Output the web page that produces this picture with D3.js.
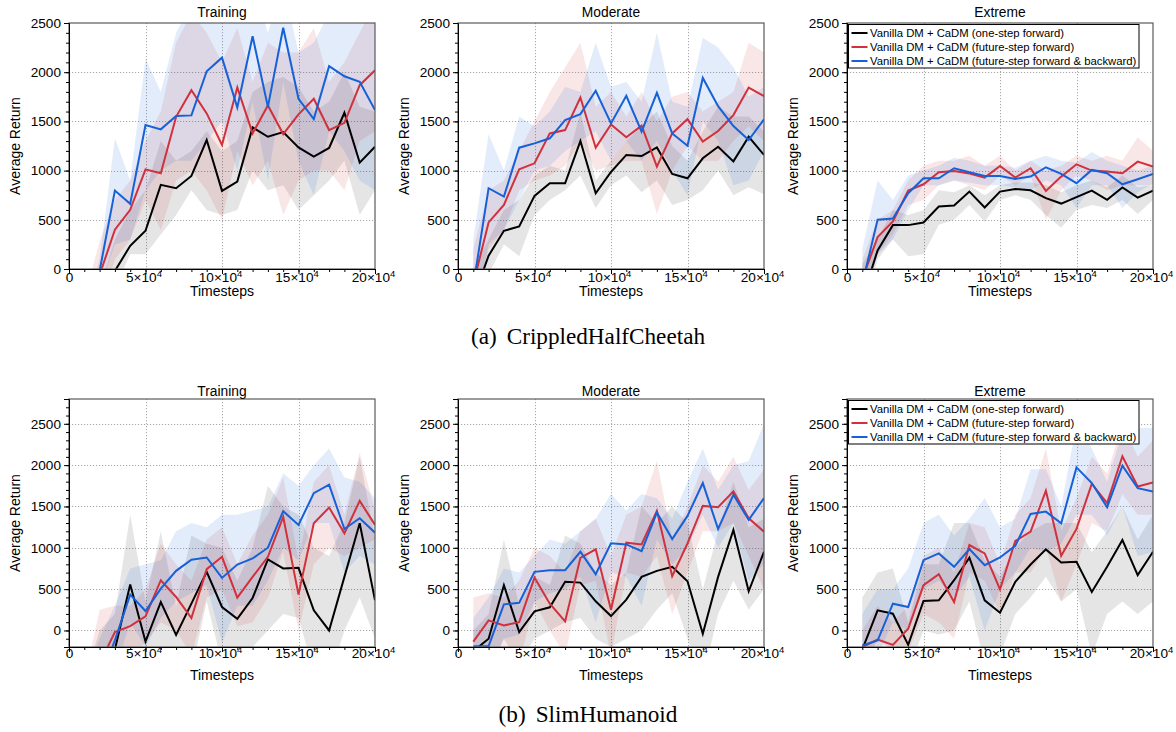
<!DOCTYPE html>
<html><head><meta charset="utf-8">
<script src="https://cdn.jsdelivr.net/npm/d3@7"></script>
<style>body{margin:0;background:#fff}svg{display:block}</style>
</head><body>
<svg id="c" width="1176" height="732"></svg>
<script>
// ---------- data ----------
const timesteps = [10000,20000,30000,40000,50000,60000,70000,80000,90000,100000,110000,120000,130000,140000,150000,160000,170000,180000,190000,200000];
const xTickValues = [0, 50000, 100000, 150000, 200000];
const xTickMantissa = ["0", "5×10", "10×10", "15×10", "20×10"];
const xTickExponent = ["", "4", "4", "4", "4"];
const yTickValues = [0, 500, 1000, 1500, 2000, 2500];
const yDomainTop = [0, 2500];
const yDomainBottom = [-200, 2800];
const panelTitles = ["Training", "Moderate", "Extreme"];
const seriesNames = ["Vanilla DM + CaDM (one-step forward)", "Vanilla DM + CaDM (future-step forward)", "Vanilla DM + CaDM (future-step forward & backward)"];
const seriesColors = ["#000000", "#d0313c", "#1660d8"];
const captionLabels = ["(a)", "(b)"];
const captionNames = ["CrippledHalfCheetah", "SlimHumanoid"];
const xLabel = "Timesteps";
const yLabel = "Average Return";

// CrippledHalfCheetah - Training
const chTrainBlack   = [-900,-500,-20,236,388,855,821,946,1311,794,888,1439,1344,1392,1236,1142,1230,1588,1081,1243];
const chTrainBlackLo = [-1500,-1000,-200,150,150,350,550,800,600,550,600,1000,800,850,600,750,900,1100,550,800];
const chTrainBlackHi = [-500,-200,300,600,800,1300,1100,1200,1400,1200,1300,1800,1900,1950,1850,1600,1700,2000,1650,1600];
const chTrainRed     = [-600,-60,399,601,1013,973,1547,1817,1581,1260,1844,1378,1662,1371,1571,1730,1412,1486,1868,2020];
const chTrainRedLo   = [-1500,-400,100,300,700,400,900,1000,800,500,1200,850,1100,550,900,1000,1000,800,1300,1400];
const chTrainRedHi   = [-300,280,700,900,1300,1600,2300,2600,2400,2100,2450,1900,2300,2200,2200,2450,1900,2100,2400,2700];
const chTrainBlue    = [-800,-20,797,662,1463,1419,1554,1561,2010,2148,1642,2365,1648,2452,1730,1523,2061,1959,1902,1615];
const chTrainBlueLo  = [-1500,-200,250,300,800,1000,1100,1100,1300,1500,1000,1700,900,1900,1100,750,1400,1200,900,800];
const chTrainBlueHi  = [-500,100,1330,900,2140,1800,2400,2700,2700,2900,2600,2900,2400,2900,2200,2300,2600,2700,2500,2500];

// CrippledHalfCheetah - Moderate
const chModBlack   = [-300,135,388,432,743,871,871,1300,770,986,1159,1148,1236,966,922,1125,1243,1094,1344,1159];
const chModBlackLo = [-600,-50,250,130,550,700,800,950,620,850,950,780,900,650,700,800,1000,750,830,760];
const chModBlackHi = [0,300,600,700,950,1050,1000,1600,900,1100,1300,1450,1600,1250,1100,1400,1650,1550,1550,1400];
const chModRed     = [-150,473,652,1013,1074,1378,1412,1743,1233,1469,1338,1456,1040,1378,1523,1294,1402,1564,1844,1756];
const chModRedLo   = [-500,200,400,800,900,950,1050,1300,1000,1050,1100,1100,560,1000,1250,1100,1100,1300,1450,1300];
const chModRedHi   = [200,800,900,1200,1500,1800,2050,2300,1650,1800,1550,1800,1500,1750,1800,1600,1700,1800,2300,2200];
const chModBlue    = [-170,821,736,1233,1277,1328,1513,1574,1811,1480,1760,1395,1790,1378,1253,1942,1655,1453,1311,1520];
const chModBlueLo  = [-500,250,400,700,1000,1050,1200,1300,1400,1100,1300,1100,1300,1000,750,1500,1300,850,900,1200];
const chModBlueHi  = [300,1370,1000,1550,1450,1600,1850,1800,2300,1850,1900,1700,2400,1700,1650,2350,2250,2050,1750,1850];

// CrippledHalfCheetah - Extreme
const chExtBlack   = [-300,189,446,446,473,635,645,787,625,787,814,800,720,665,730,797,703,828,726,797];
const chExtBlackLo = [-500,100,300,130,150,450,500,650,480,700,750,700,550,420,600,650,620,700,560,700];
const chExtBlackHi = [50,300,600,550,600,800,780,850,750,850,880,880,850,780,850,900,830,950,830,850];
const chExtRed     = [-100,324,483,797,861,983,997,970,929,1047,929,1024,794,939,1064,1000,990,973,1091,1040];
const chExtRedLo   = [-300,150,350,650,700,850,900,850,800,950,850,950,500,800,950,900,800,850,850,850];
const chExtRedHi   = [100,500,600,900,1050,1100,1100,1150,1050,1150,1000,1100,1000,1050,1150,1100,1150,1100,1340,1200];
const chExtBlue    = [-150,500,513,770,922,922,1024,983,946,946,915,939,1034,966,872,1007,973,861,912,966];
const chExtBlueLo  = [-400,150,300,600,850,850,900,880,850,850,830,800,900,850,620,850,850,620,780,870];
const chExtBlueHi  = [200,900,700,950,1000,1050,1130,1100,1050,1050,1030,1100,1150,1100,1080,1190,1100,1050,1000,1050];

// SlimHumanoid - Training
const shTrainBlack   = [-1000,-700,-230,555,-134,344,-53,324,709,284,142,393,859,750,758,243,0,648,1297,365];
const shTrainBlackLo = [-1200,-900,-700,-300,-600,-500,-400,-500,350,-400,-350,-200,0,200,150,-500,-600,0,400,-100];
const shTrainBlackHi = [-600,0,200,1400,350,1200,300,1150,1050,1000,600,1000,1750,1500,1400,1000,900,1300,2100,1100];
const shTrainRed     = [-1000,-400,-20,53,170,608,405,150,742,891,397,648,891,1374,434,1297,1487,1175,1568,1276];
const shTrainRedLo   = [-1200,-800,-400,-300,-150,100,0,-300,400,500,50,100,400,950,0,800,1000,900,1000,1100];
const shTrainRedHi   = [-600,250,300,300,500,1050,800,600,1100,1250,800,1150,1400,1850,850,1800,2000,1400,2150,1450];
const shTrainBlue    = [-1000,-600,-120,434,235,506,721,855,883,636,798,871,1001,1443,1276,1661,1763,1228,1357,1183];
const shTrainBlueLo  = [-1200,-900,-500,100,-200,150,350,450,550,-150,300,300,600,1000,850,1300,1300,700,900,800];
const shTrainBlueHi  = [-600,-100,300,750,800,850,1200,1300,1250,1400,1400,1450,1500,1900,1750,2000,2200,1850,1800,1600];

// SlimHumanoid - Moderate
const shModBlack   = [-250,-100,547,-20,231,280,588,579,353,174,373,648,721,770,596,-40,648,1216,474,952];
const shModBlackLo = [-600,-500,-100,-400,-100,0,100,150,-100,-200,-100,0,250,450,-100,-600,200,600,250,500];
const shModBlackHi = [0,200,1100,300,650,550,1150,1050,700,550,700,1500,1300,1500,1300,500,1200,1800,1250,1350];
const shModRed     = [-134,122,61,101,640,324,109,879,981,251,1062,1041,1447,656,1054,1507,1491,1682,1357,1195];
const shModRedLo   = [-600,-200,-300,-400,350,0,-300,550,600,-300,700,650,900,200,700,1200,1200,1300,900,500];
const shModRedHi   = [400,450,400,600,1000,900,700,1200,1350,900,1400,1500,2050,1100,1500,2000,1800,2100,1700,1950];
const shModBlue    = [-190,-190,316,336,709,729,729,952,681,1054,1041,960,1426,1106,1386,1783,1228,1641,1337,1601];
const shModBlueLo  = [-500,-500,-100,-50,350,450,500,650,100,700,650,300,1100,800,1000,1400,1000,1300,600,800];
const shModBlueHi  = [150,400,750,700,900,1100,1050,1200,1350,1650,1450,1650,1600,1350,1800,2200,1700,2000,2050,2500];

// SlimHumanoid - Extreme
const shExtBlack   = [-230,243,203,-174,357,365,608,879,365,215,588,798,981,823,831,466,770,1094,669,952];
const shExtBlackLo = [-500,-100,-250,-500,0,-50,0,350,-400,-300,200,400,650,350,500,-300,200,350,200,350];
const shExtBlackHi = [400,700,750,100,800,800,1300,1300,850,650,1000,1200,1300,1300,1300,950,1200,1500,1100,1400];
const shExtRed     = [-200,-110,-174,20,547,681,344,1033,932,498,1082,1195,1690,904,1228,1775,1540,2107,1742,1791];
const shExtRedLo   = [-500,-450,-400,-250,200,100,-100,700,600,200,700,700,1000,350,800,1300,1200,1650,1400,1400];
const shExtRedHi   = [0,300,100,300,900,1000,700,1300,1250,800,1400,1600,2200,1200,1600,2100,1900,2500,2100,2300];
const shExtBlue    = [-182,-122,324,284,851,932,770,985,790,883,1025,1410,1438,1297,1973,1783,1491,1994,1722,1682];
const shExtBlueLo  = [-500,-300,100,0,500,600,400,650,0,500,700,1000,950,1050,1400,1400,1150,1500,900,950];
const shExtBlueHi  = [200,500,500,750,1300,1400,1150,1350,1600,1250,1350,1950,1950,1500,2500,2200,1800,2400,2450,2450];

// ---------- layout ----------
const SANS = "'Liberation Sans', Arial, Helvetica, sans-serif";
const SERIF = "'Liberation Serif', 'Times New Roman', serif";
const colLeft = [69, 458, 847];
const panelW = 306;
const rowTop = [23, 399];
const rowH = [246, 248];
const rowTickY = [13, 11];
const rowXLabelY = [27, 33];
const rowTitleY = [6, 3.5];

const rows = [
  { domain: yDomainTop, panels: [
      [[chTrainBlack, chTrainBlackLo, chTrainBlackHi], [chTrainRed, chTrainRedLo, chTrainRedHi], [chTrainBlue, chTrainBlueLo, chTrainBlueHi]],
      [[chModBlack, chModBlackLo, chModBlackHi], [chModRed, chModRedLo, chModRedHi], [chModBlue, chModBlueLo, chModBlueHi]],
      [[chExtBlack, chExtBlackLo, chExtBlackHi], [chExtRed, chExtRedLo, chExtRedHi], [chExtBlue, chExtBlueLo, chExtBlueHi]]
  ]},
  { domain: yDomainBottom, panels: [
      [[shTrainBlack, shTrainBlackLo, shTrainBlackHi], [shTrainRed, shTrainRedLo, shTrainRedHi], [shTrainBlue, shTrainBlueLo, shTrainBlueHi]],
      [[shModBlack, shModBlackLo, shModBlackHi], [shModRed, shModRedLo, shModRedHi], [shModBlue, shModBlueLo, shModBlueHi]],
      [[shExtBlack, shExtBlackLo, shExtBlackHi], [shExtRed, shExtRedLo, shExtRedHi], [shExtBlue, shExtBlueLo, shExtBlueHi]]
  ]}
];

const svg = d3.select("#c");
const bandOpacity = [0.1, 0.12, 0.12];
let clipId = 0;

rows.forEach((row, ri) => {
  row.panels.forEach((series, ci) => {
    const left = colLeft[ci], top = rowTop[ri], h = rowH[ri];
    const x = d3.scaleLinear().domain([0, 200000]).range([left, left + panelW]);
    const y = d3.scaleLinear().domain(row.domain).range([top + h, top]);
    const g = svg.append("g");
    const cid = "clip" + (clipId++);
    g.append("clipPath").attr("id", cid).append("rect")
      .attr("x", left).attr("y", top).attr("width", panelW).attr("height", h);

    // grid
    const grid = g.append("g").attr("stroke", "#a8a8a8").attr("stroke-width", 1).attr("stroke-dasharray", "1.2,1.8");
    xTickValues.filter(v => v > 0 && v < 200000).forEach(v => {
      grid.append("line").attr("x1", Math.round(x(v)) + 0.5).attr("x2", Math.round(x(v)) + 0.5).attr("y1", top).attr("y2", top + h);
    });
    yTickValues.filter(v => v > row.domain[0] && v < row.domain[1]).forEach(v => {
      grid.append("line").attr("y1", Math.round(y(v)) + 0.5).attr("y2", Math.round(y(v)) + 0.5).attr("x1", left).attr("x2", left + panelW);
    });

    const plot = g.append("g").attr("clip-path", `url(#${cid})`);
    const area = d3.area().x((d, i) => x(timesteps[i])).y0(d => y(d[0])).y1(d => y(d[1]));
    const line = d3.line().x((d, i) => x(timesteps[i])).y(d => y(d));
    series.forEach((s, si) => {
      const band = s[1].map((lo, i) => [lo, s[2][i]]);
      plot.append("path").attr("d", area(band)).attr("fill", seriesColors[si]).attr("fill-opacity", bandOpacity[si]).attr("stroke", "none");
    });
    series.forEach((s, si) => {
      plot.append("path").attr("d", line(s[0])).attr("fill", "none").attr("stroke", seriesColors[si])
        .attr("stroke-width", 2).attr("stroke-linejoin", "miter");
    });

    // frame (top/right)
    g.append("rect").attr("x", left).attr("y", top).attr("width", panelW).attr("height", h)
      .attr("fill", "none").attr("stroke", "#5a5a5a").attr("stroke-width", 1.2);

    // y axis
    const yMinor = d3.range(Math.ceil(row.domain[0] / 100) * 100, row.domain[1] + 1, 100);
    const yAxisMinor = g.append("g").attr("transform", `translate(${left},0)`)
      .call(d3.axisLeft(y).tickValues(yMinor).tickSize(3).tickFormat(""));
    yAxisMinor.select(".domain").remove();
    const yAxis = g.append("g").attr("transform", `translate(${left},0)`)
      .call(d3.axisLeft(y).tickValues(yTickValues).tickSize(5).tickPadding(3).tickFormat(d3.format("d")));
    yAxis.selectAll("text").attr("font-family", SANS).attr("font-size", 13.6).attr("fill", "#000");
    yAxis.selectAll("line,path").attr("stroke", "#000");
    yAxisMinor.selectAll("line").attr("stroke", "#000");

    // x axis
    const xMinor = d3.range(0, 200001, 10000);
    const xAxisMinor = g.append("g").attr("transform", `translate(0,${top + h})`)
      .call(d3.axisBottom(x).tickValues(xMinor).tickSize(3).tickFormat(""));
    xAxisMinor.select(".domain").remove();
    xAxisMinor.selectAll("line").attr("stroke", "#000");
    const xAxis = g.append("g").attr("transform", `translate(0,${top + h})`)
      .call(d3.axisBottom(x).tickValues(xTickValues).tickSize(5).tickFormat(""));
    xAxis.selectAll("line,path").attr("stroke", "#000");
    xAxis.selectAll(".tick").each(function(d, i) {
      const t = d3.select(this).append("text").attr("y", rowTickY[ri]).attr("x", i === 0 ? 0 : -2)
        .attr("text-anchor", "middle").attr("font-family", SANS).attr("font-size", 13.6).attr("fill", "#000");
      t.append("tspan").text(xTickMantissa[i]);
      if (xTickExponent[i]) t.append("tspan").attr("dy", -5.5).attr("font-size", 9.5).text(xTickExponent[i]);
    });

    // labels
    g.append("text").attr("x", left + panelW / 2).attr("y", top + h + rowXLabelY[ri]).attr("text-anchor", "middle")
      .attr("font-family", SANS).attr("font-size", 14).text(xLabel);
    g.append("text").attr("transform", `translate(${left - 49},${top + h / 2}) rotate(-90)`).attr("text-anchor", "middle")
      .attr("font-family", SANS).attr("font-size", 14).text(yLabel);
    g.append("text").attr("x", left + panelW / 2).attr("y", top - rowTitleY[ri]).attr("text-anchor", "middle")
      .attr("font-family", SANS).attr("font-size", 13.8).text(panelTitles[ci]);

    // legend
    if (ci === 2) {
      const lg = g.append("g").attr("transform", `translate(${left + 1.5},${top + 1.5})`);
      lg.append("rect").attr("x", 0).attr("y", 0).attr("width", 290.5).attr("height", 43.5)
        .attr("fill", "#fff").attr("stroke", "#000").attr("stroke-width", 1);
      seriesNames.forEach((n, si) => {
        const yy = 8.5 + si * 14;
        lg.append("line").attr("x1", 3).attr("x2", 19).attr("y1", yy).attr("y2", yy)
          .attr("stroke", seriesColors[si]).attr("stroke-width", 2);
        lg.append("text").attr("x", 21.5).attr("y", yy).attr("dy", "0.35em")
          .attr("font-family", SANS).attr("font-size", 11.3).text(n);
      });
    }
  });
});

// captions
const capY = [344, 722];
captionLabels.forEach((c, i) => {
  const t = svg.append("text").attr("x", 588).attr("y", capY[i]).attr("text-anchor", "middle")
    .attr("font-family", SERIF).attr("font-size", 23.2).attr("fill", "#000");
  t.append("tspan").text(c);
  t.append("tspan").attr("dx", 10).text(captionNames[i]);
});
</script>
</body></html>
